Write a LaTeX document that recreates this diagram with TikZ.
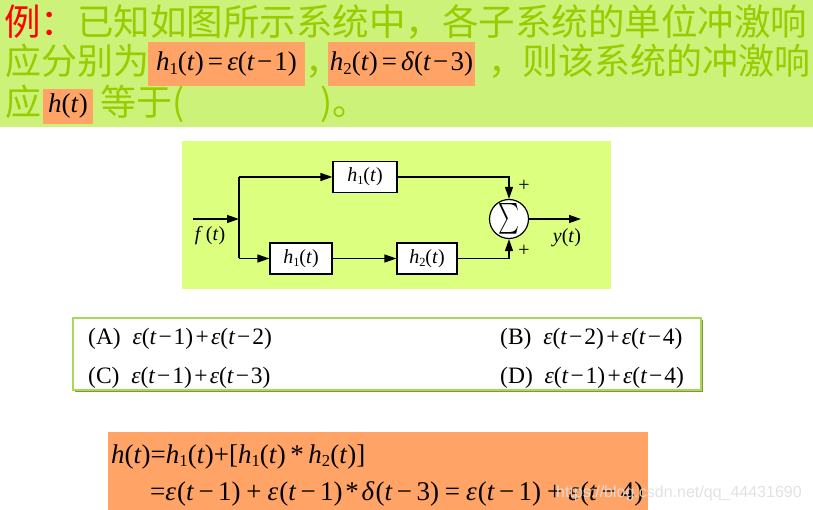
\documentclass[tikz,border=0pt]{standalone}
\usepackage{graphicx}
\usepackage{fontspec}
\setmainfont{Liberation Serif}
\newfontfamily\cjk{Noto Sans CJK SC}
\newfontfamily\wmfont{Liberation Sans}
\usetikzlibrary{arrows.meta}
\definecolor{topgreen}{HTML}{CCF27A}
\definecolor{diagbg}{HTML}{DDFF80}
\definecolor{txtgreen}{HTML}{99CC00}
\definecolor{orangebox}{HTML}{FFA366}
\definecolor{optborder}{HTML}{A8D855}
\definecolor{optshadow}{HTML}{7F9933}
\newcommand\mv[1]{\textit{#1}}
\newcommand\sbs[1]{\raisebox{-0.32ex}{\scalebox{0.62}{#1}}}
\newcommand\hh[1]{\mv{h}\sbs{#1}(\mv{t})}
\newcommand\ee[1]{\mv{ε}(\mv{t}\kern0.08em−\kern0.08em#1)}
\newcommand\dd[1]{\mv{δ}(\mv{t}\kern0.08em−\kern0.08em#1)}
\newcommand\pl{\kern0.1em+\kern0.1em}
\newcommand\eq{\kern0.15em=\kern0.15em}
\newcommand\wpl{\kern0.22em+\kern0.22em}
\newcommand\weq{\kern0.22em=\kern0.22em}
\newcommand\wee[1]{\mv{ε}\kern0.04em(\mv{t}\kern0.16em−\kern0.16em#1)}
\newcommand\wdd[1]{\mv{δ}\kern0.04em(\mv{t}\kern0.16em−\kern0.16em#1)}
\begin{document}
\begin{tikzpicture}[x=1pt,y=-1pt,
  cjktext/.style={inner sep=0pt,anchor=base west,text=txtgreen,font=\cjk\fontsize{36}{40}\selectfont},
  hmath/.style={inner sep=0pt,font=\fontsize{27}{30}\selectfont},
  blk/.style={draw,line width=1.2pt,fill=white,minimum height=31pt,inner sep=0pt,font=\fontsize{20}{22}\selectfont},
  arr/.style={line width=1.3pt,-{Triangle[length=12pt,width=8pt]}},
  lbl/.style={inner sep=0pt,font=\fontsize{20}{22}\selectfont},
  opt/.style={inner sep=0pt,anchor=base west,font=\fontsize{23.5}{26}\selectfont},
  ansmath/.style={inner sep=0pt,anchor=base west,font=\fontsize{27}{30}\selectfont}]
\fill[white] (0,0) rectangle (813,510);
\useasboundingbox (0,0) rectangle (813,510);
% top band
\fill[topgreen] (0,0) rectangle (813,127);
\node[cjktext,font=\cjk\fontsize{36.5}{40}\selectfont] (l1) at (4,36) {\textcolor{red}{例：}已知如图所示系统中，各子系统的单位冲激响};
\node[cjktext] (l2a) at (5,75) {应分别为};
\fill[orangebox] (148,42) rectangle (305,86);
\node[hmath] (m1) at (226.5,64) {\hh{1}\eq\ee{1}};
\node[cjktext] (l2b) at (305,75) {，};
\fill[orangebox] (328,42) rectangle (475,86);
\node[hmath] (m2) at (401.5,64) {\hh{2}\eq\dd{3}};
\node[cjktext] (l2c) at (488,75) {，};
\node[cjktext] (l2d) at (522,75) {则该系统的冲激响};
\node[cjktext] (l3a) at (5,116) {应};
\fill[orangebox] (43,89) rectangle (93,124);
\node[hmath] (m3) at (68,106) {\mv{h}(\mv{t})};
\node[cjktext] (l3b) at (100,116) {等于(};
\node[cjktext] (l3c) at (320,116) {)。};
% block diagram
\fill[diagbg] (182,141) rectangle (611,289);
\node[blk,minimum width=64pt] (top) at (365,177) {\hh{1}};
\node[blk,minimum width=62pt] (b1) at (301,258.5) {\hh{1}};
\node[blk,minimum width=60pt] (b2) at (427,258.5) {\hh{2}};
\node[circle,draw,line width=1.2pt,fill=white,minimum size=39pt,inner sep=0pt] (sum) at (509,219) {};
\node[inner sep=0pt] (sig) at (sum.center) {\resizebox{21pt}{23pt}{$\sum$}};
\coordinate (in) at (193,219);
\coordinate (br) at (239,219);
\coordinate (out) at (581,219);
\draw[arr] (in) -- (br);
\draw[line width=1.3pt] (br |- top) -- (br |- b1);
\draw[arr] (br |- top) -- (top.west);
\draw[arr] (br |- b1) -- (b1.west);
\draw[arr] (b1.east) -- (b2.west);
\draw[arr] (top.east) -| (sum.north);
\draw[arr] (b2.east) -| (sum.south);
\draw[arr] (sum.east) -- (out);
\node[lbl] (fl) at (210,236) {\mv{f}\,(\mv{t})};
\node[lbl] (yl) at (567,238) {\mv{y}(\mv{t})};
\node[lbl] (p1) at (524,186) {+};
\node[lbl] (p2) at (524,251) {+};
% options
\fill[optshadow] (75,320) rectangle (703,392);
\draw[optborder,line width=1.8pt,fill=white] (73,318) rectangle (701,390);
\node[opt] (oa) at (88,344) {(A)\enspace \ee{1}\pl\ee{2}};
\node[opt] (ob) at (500,344) {(B)\enspace \ee{2}\pl\ee{4}};
\node[opt] (oc) at (88,383) {(C)\enspace \ee{1}\pl\ee{3}};
\node[opt] (od) at (500,383) {(D)\enspace \ee{1}\pl\ee{4}};
% answer
\fill[orangebox] (108,432) rectangle (648,510);
\node[ansmath] (a1) at (111,463) {\mv{h}(\mv{t})=\hh{1}+[\hh{1}\,*\,\hh{2}]};
\node[ansmath] (a2) at (150,500) {=\wee{1}\wpl\wee{1}\kern0.1em*\kern0.1em\wdd{3}\weq\wee{1}\wpl\wee{4}};
\node[inner sep=0pt,anchor=base west,text=gray!25,opacity=0.9,font=\wmfont\fontsize{16}{18}\selectfont] (wm) at (556,497) {https://blog.csdn.net/qq\_44431690};
\end{tikzpicture}
\end{document}
